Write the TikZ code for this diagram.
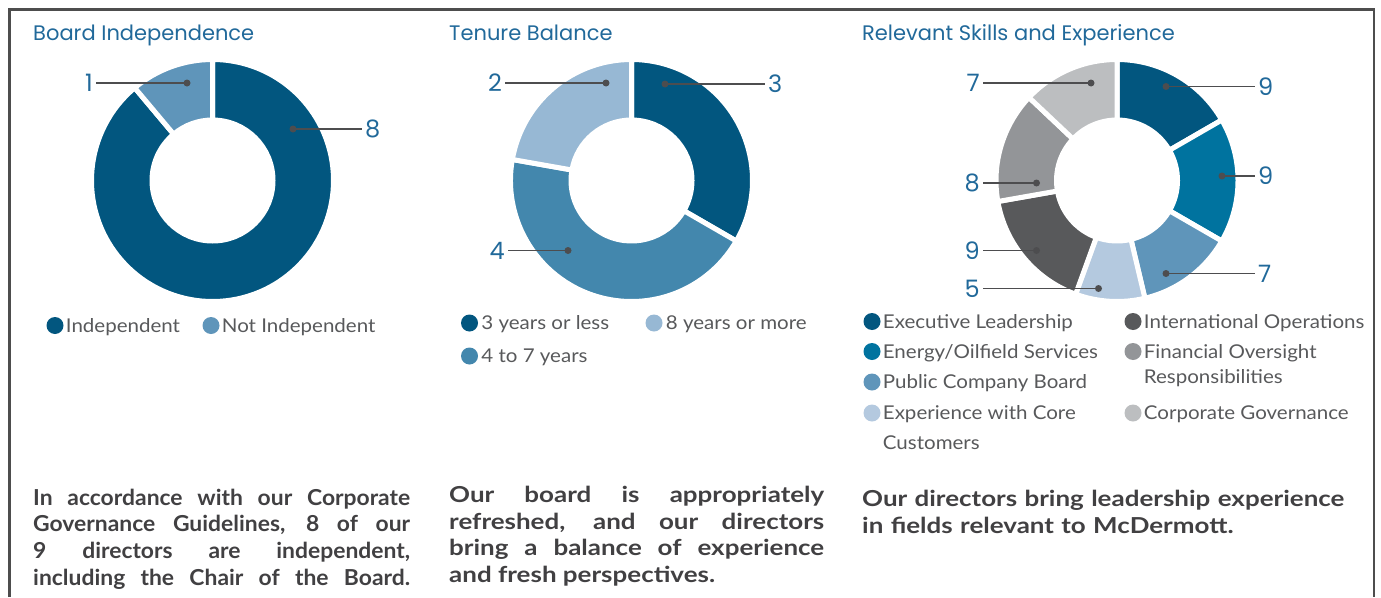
\documentclass[tikz,border=0pt]{standalone}
\usepackage{fontspec}
\setmainfont{Lato}
\newfontfamily\headfont{Poppins}
\newfontfamily\keyfont{Lato}[FakeStretch=1.08]
\newfontfamily\blurbfont{Lato}[FakeStretch=1.18]
\newfontfamily\narrowfont{Lato}[FakeStretch=1.04]
\usetikzlibrary{positioning,calc}
\definecolor{titleblue}{HTML}{21699A}
\definecolor{framec}{HTML}{4D4D4D}
\definecolor{leadc}{HTML}{4D4D4F}
\definecolor{keyc}{HTML}{58595B}
\definecolor{parac}{HTML}{414042}
\definecolor{indep}{HTML}{02567F}
\definecolor{notindep}{HTML}{5F95BA}
\definecolor{midblue}{HTML}{4387AD}
\definecolor{paleblue}{HTML}{97B8D4}
\definecolor{energyc}{HTML}{00739F}
\definecolor{custc}{HTML}{B4C9DF}
\definecolor{intlc}{HTML}{58595B}
\definecolor{finc}{HTML}{939598}
\definecolor{govc}{HTML}{BCBEC0}

\begin{document}
\begin{tikzpicture}
[x=1pt,y=-1pt,
slice/.style={draw=white,line width=5pt},
dot/.style={circle,fill=leadc,inner sep=0pt,minimum size=7pt},
leader/.style={draw=leadc,line width=1.5pt},
num/.style={font=\headfont\fontsize{24}{24}\selectfont,text=titleblue,inner sep=3pt},
title/.style={font=\headfont\fontsize{21}{21}\selectfont,text=titleblue,inner sep=0pt,anchor=base west},
key/.style={circle,inner sep=0pt,minimum size=17pt},
keytext/.style={font=\keyfont\fontsize{19}{25}\selectfont,text=keyc,inner sep=1pt,
  text height=13.5pt,text depth=0pt,align=left},
blurb/.style={font=\blurbfont\bfseries\fontsize{22}{26.7}\selectfont,
  text=parac,inner sep=0pt,anchor=base west}]
\useasboundingbox (0,0) rectangle (1381,597);
\draw[framec,line width=2.5pt] (9.3,597) -- (9.3,9.3) -- (1374,9.3) -- (1374,597);

\coordinate (c1) at (212.5,180.5);
\coordinate (c2) at (631.5,180.5);
\coordinate (c3) at (1117,180.5);
\foreach \c/\a/\b/\col in {c1/-230/90/indep, c1/90/130/notindep,
  c2/-30/90/indep, c2/-190/-30/midblue, c2/90/170/paleblue,
  c3/30/90/indep, c3/-30/30/energyc, c3/-76.667/-30/notindep, c3/-110/-76.667/custc,
  c3/-170/-110/intlc, c3/136.667/190/finc, c3/90/136.667/govc}
  \fill[fill=\col,slice] ($(\c)+(\a:121pt)$) arc[start angle=\a,end angle=\b,radius=121pt]
    -- ($(\c)+(\b:60.5pt)$) arc[start angle=\b,end angle=\a,radius=60.5pt] -- cycle;

\node[dot] (d1a) at (187,83) {};
\node[num,anchor=east] (n1a) at (96,83) {1};
\node[dot] (d1b) at (293,129) {};
\node[num,anchor=west] (n1b) at (362,129) {8};
\node[dot] (d2a) at (606,83) {};
\node[num,anchor=east] (n2a) at (505,83) {2};
\node[dot] (d2b) at (665,84) {};
\node[num,anchor=west] (n2b) at (765,84) {3};
\node[dot] (d2c) at (568,250.5) {};
\node[num,anchor=east] (n2c) at (508,250.5) {4};
\node[dot] (d3a) at (1166,86.5) {};
\node[num,anchor=west] (n3a) at (1255,86.5) {9};
\node[dot] (d3b) at (1222,176) {};
\node[num,anchor=west] (n3b) at (1255,176) {9};
\node[dot] (d3c) at (1166,273.5) {};
\node[num,anchor=west] (n3c) at (1255,273.5) {7};
\node[dot] (d3d) at (1098.5,288.5) {};
\node[num,anchor=east] (n3d) at (983,288.5) {5};
\node[dot] (d3e) at (1036.5,250.5) {};
\node[num,anchor=east] (n3e) at (983,250.5) {9};
\node[dot] (d3f) at (1036.5,183) {};
\node[num,anchor=east] (n3f) at (983,183) {8};
\node[dot] (d3g) at (1091,83) {};
\node[num,anchor=east] (n3g) at (983,83) {7};
\foreach \p in {1a,1b,2a,2b,2c,3a,3b,3c,3d,3e,3f,3g}
  \draw[leader] (d\p.center) -- (n\p);

\node[title] (h1) at (33,40) {Board Independence};
\node[title] (h2) at (449,40) {Tenure Balance};
\node[title] (h3) at (862,40) {Relevant Skills and Experience};

\node[key,fill=indep] (k1a) at (55,325.5) {};
\node[keytext,right=1pt of k1a] (t1a) {Independent};
\node[key,fill=notindep] (k1b) at (211,325.5) {};
\node[keytext,right=1pt of k1b] (t1b) {Not Independent};
\node[key,fill=indep] (k2a) at (469.5,323) {};
\node[keytext,right=2pt of k2a] (t2a) {3 years or less};
\node[key,fill=paleblue] (k2b) at (654,323) {};
\node[keytext,right=2pt of k2b] (t2b) {8 years or more};
\node[key,fill=midblue] (k2c) at (469.5,356) {};
\node[keytext,right=2pt of k2c] (t2c) {4 to 7 years};
\node[key,fill=indep] (k3a) at (872,321.5) {};
\node[keytext,right=1pt of k3a] (t3a) {Executive Leadership};
\node[key,fill=energyc] (k3b) at (872,351.5) {};
\node[keytext,right=1pt of k3b] (t3b) {Energy/Oilfield Services};
\node[key,fill=notindep] (k3c) at (872,382) {};
\node[keytext,right=1pt of k3c] (t3c) {Public Company Board};
\node[key,fill=custc] (k3d) at (872,413) {};
\node[keytext,right=1pt of k3d,yshift=-30pt] (t3d) {Experience with Core\\[5pt]Customers};
\node[key,fill=intlc] (k3e) at (1133,321.5) {};
\node[keytext,right=1pt of k3e] (t3e) {International Operations};
\node[key,fill=finc] (k3f) at (1133,351.5) {};
\node[keytext,right=1pt of k3f,yshift=-25pt] (t3f) {Financial Oversight\\Responsibilities};
\node[key,fill=govc] (k3g) at (1133,413) {};
\node[keytext,right=1pt of k3g] (t3g) {Corporate Governance};

\node[blurb,text width=377pt,align=justify] (p1) at (33,505)
  {\narrowfont\hyphenpenalty=10000 In accordance with our Corporate\linebreak
   Governance Guidelines, 8 of our\linebreak 9 directors are independent,\linebreak
   \makebox[\linewidth][s]{including the Chair of the Board.}};
\node[blurb,text width=375pt,align=justify] (p2) at (449,502.5)
  {\hyphenpenalty=10000 Our board is appropriately\linebreak refreshed, and our directors\linebreak
   bring a balance of experience\linebreak and fresh perspectives.};
\node[blurb,text width=500pt,align=left] (p3) at (862,506.5)
  {Our directors bring leadership experience\\in fields relevant to McDermott.};
\end{tikzpicture}
\end{document}
